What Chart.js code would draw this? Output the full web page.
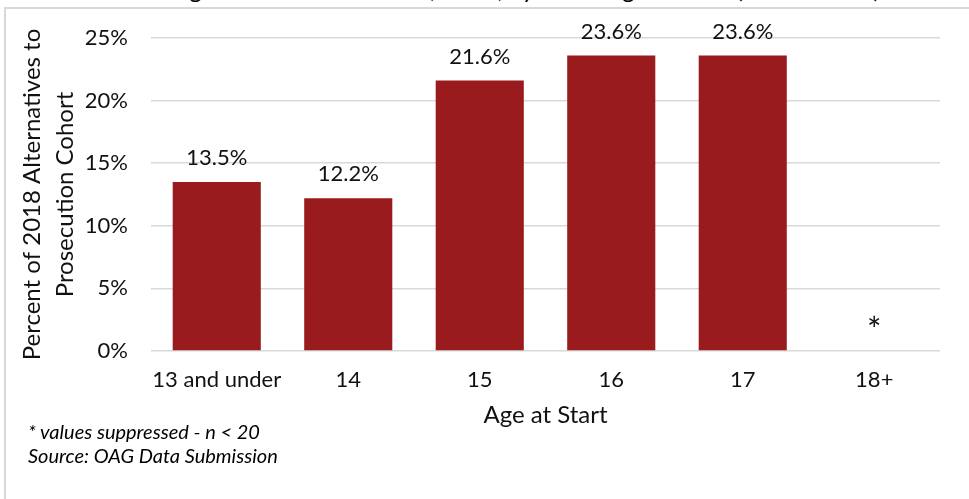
<!DOCTYPE html>
<html>
<head>
<meta charset="utf-8">
<script src="https://cdn.jsdelivr.net/npm/chart.js@4"></script>
<style>
  html, body { margin: 0; padding: 0; background: #fff; }
  #wrap { position: relative; width: 969px; height: 499px; overflow: hidden; font-family: Lato, "Open Sans", sans-serif; }
  #frame { position: absolute; left: 4px; top: 7px; width: 980px; height: 510px; border: 2px solid #d9d9d9; box-sizing: border-box; }
  #title { position: absolute; left: 0; width: 1050px; top: -26px; text-align: center; font-size: 24px; color: #000; white-space: nowrap; }
  #note { position: absolute; left: 28px; top: 419px; font-size: 20px; font-style: italic; line-height: 24px; color: #000; }
  canvas { position: absolute; left: 0; top: 0; }
</style>
</head>
<body>
<div id="wrap">
  <div id="title">Figure 5: Share of cohort, 2018, by Youth Age at Start (2018 cohort)</div>
  <div id="frame"></div>
  <canvas id="myChart" width="969" height="499"></canvas>
  <div id="note">* values suppressed - n &lt; 20<br>Source: OAG Data Submission</div>
</div>
<script>
"use strict";

const ages = ["13 and under", "14", "15", "16", "17", "18+"];
const percents = [13.5, 12.2, 21.6, 23.6, 23.6, null];
const yTicks = [0, 5, 10, 15, 20, 25];

const barColor = "#991b1e";
const textColor = "#111";

// draws the value above each bar, "*" where the value is suppressed
const barLabels = {
    id: "barLabels",
    afterDatasetsDraw(chart) {
        const ctx = chart.ctx;
        const meta = chart.getDatasetMeta(0);
        const xScale = chart.scales.x;
        const yScale = chart.scales.y;
        ctx.save();
        ctx.fillStyle = textColor;
        ctx.textAlign = "center";
        for (let i = 0; i < ages.length; i++) {
            const v = percents[i];
            const x = xScale.getPixelForValue(i);
            if (v == null) {
                ctx.font = "34px Lato";
                ctx.textBaseline = "alphabetic";
                ctx.fillText("*", x, yScale.getPixelForValue(0) - 9);
            } else {
                ctx.font = "22px Lato";
                ctx.textBaseline = "bottom";
                ctx.fillText(v.toFixed(1) + "%", x, meta.data[i].y - 13);
            }
        }
        ctx.restore();
    }
};

const ctx = document.getElementById("myChart");

const myChart = new Chart(ctx, {
    type: "bar",
    data: {
        labels: ages,
        datasets: [
            {
                label: "Percent",
                data: percents,
                backgroundColor: barColor,
                borderWidth: 0,
                categoryPercentage: 1,
                barPercentage: 0.67
            }
        ]
    },
    options: {
        responsive: false,
        animation: false,
        layout: {
            padding: { left: 0, right: 29, top: 38, bottom: 68 }
        },
        plugins: {
            legend: { display: false },
            tooltip: { enabled: false }
        },
        scales: {
            x: {
                grid: { display: false, drawTicks: false },
                border: { display: false },
                ticks: { color: textColor, font: { family: "Lato", size: 22 }, padding: 16, maxRotation: 0, autoSkip: false },
                title: {
                    display: true,
                    text: "Age at Start",
                    color: textColor,
                    font: { family: "Lato", size: 24 },
                    padding: { top: 0, bottom: 1 }
                },
                afterFit(scale) {
                    scale.height = 80;
                }
            },
            y: {
                min: 0,
                max: 25,
                afterBuildTicks(scale) {
                    scale.ticks = yTicks.map((v) => ({ value: v }));
                },
                grid: { color: "#d9d9d9", lineWidth: 1.5, drawTicks: false },
                border: { display: false },
                ticks: {
                    color: textColor,
                    font: { family: "Lato", size: 22 },
                    padding: 23,
                    callback: (v) => v + "%"
                },
                title: {
                    display: true,
                    text: ["Percent of 2018 Alternatives to", "Prosecution Cohort"],
                    color: textColor,
                    font: { family: "Lato", size: 24, lineHeight: 1.4 },
                    padding: { top: 15, bottom: 0 }
                },
                afterFit(scale) {
                    scale.width = 151;
                }
            }
        }
    },
    plugins: [barLabels]
});
</script>
</body>
</html>
